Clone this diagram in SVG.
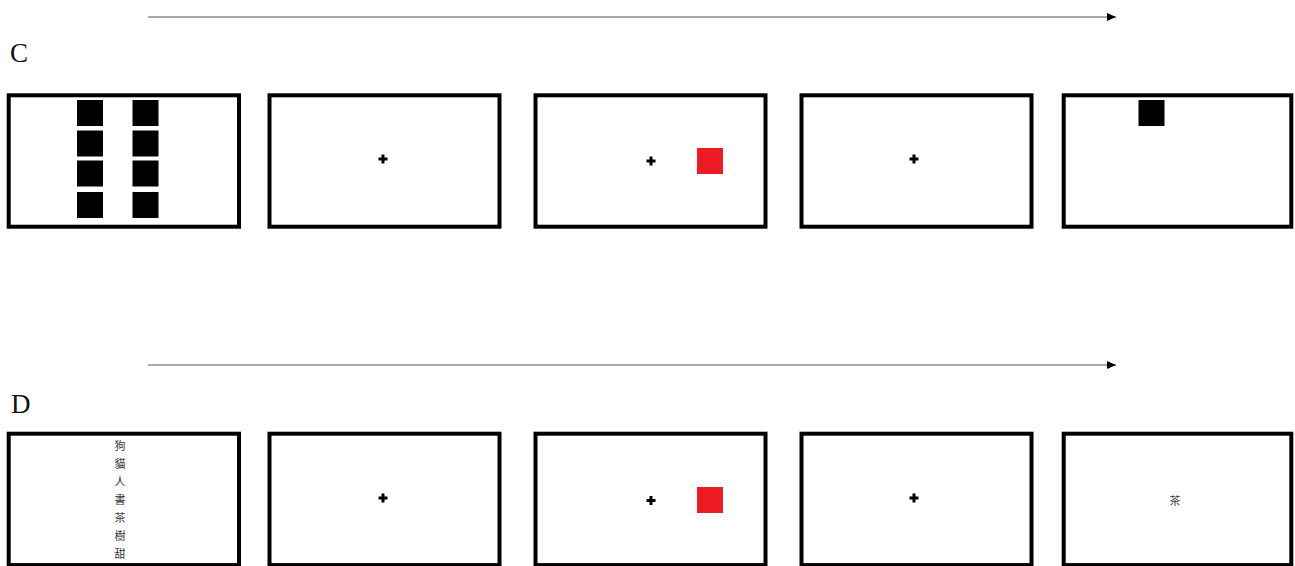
<svg xmlns="http://www.w3.org/2000/svg" width="1295" height="566" viewBox="0 0 1295 566">
<style>
.frame{fill:#fff;stroke:#000;stroke-width:4}
.blk{fill:#000}
.red{fill:#ed1c24}
.cross{stroke:#000;stroke-width:3;fill:none}
.lbl{font-family:"Liberation Serif",serif;font-size:27px;fill:#111}
.cjk{font-family:"Noto Sans CJK TC","Noto Sans CJK SC",sans-serif;font-size:11px;fill:#333;text-anchor:middle;dominant-baseline:central}
.arr{stroke:#555;stroke-width:1.2;fill:none}
</style>
<defs>
<marker id="ah" markerWidth="10" markerHeight="8" refX="9" refY="4" orient="auto" markerUnits="userSpaceOnUse">
<path d="M0,0 L9,4 L0,8 Z" fill="#000"/>
</marker>
</defs>
<rect width="1295" height="566" fill="#fff"/>
<g id="connectors">
<line class="arr" x1="148" y1="17" x2="1116" y2="17" marker-end="url(#ah)"/>
<line class="arr" x1="148" y1="365" x2="1116" y2="365" marker-end="url(#ah)"/>
</g>
<text class="lbl" x="10" y="62">C</text>
<text class="lbl" x="11" y="413">D</text>
<g id="c1">
<rect class="frame" x="8.7" y="95.3" width="230.3" height="131.4"/>
<rect class="blk" x="77" y="100" width="26" height="26"/>
<rect class="blk" x="132.5" y="100" width="26" height="26"/>
<rect class="blk" x="77" y="130.5" width="26" height="26"/>
<rect class="blk" x="132.5" y="130.5" width="26" height="26"/>
<rect class="blk" x="77" y="160.5" width="26" height="26"/>
<rect class="blk" x="132.5" y="160.5" width="26" height="26"/>
<rect class="blk" x="77" y="192" width="26" height="26"/>
<rect class="blk" x="132.5" y="192" width="26" height="26"/>
</g>
<g id="c2">
<rect class="frame" x="269.5" y="95.3" width="230" height="131.4"/>
<path class="cross" d="M378.5,159 h9 M383,154.5 v9"/>
</g>
<g id="c3">
<rect class="frame" x="535.5" y="95.3" width="230" height="131.4"/>
<path class="cross" d="M646.5,161 h9 M651,156.5 v9"/>
<rect class="red" x="697" y="148" width="26" height="26"/>
</g>
<g id="c4">
<rect class="frame" x="801.5" y="95.3" width="230" height="131.4"/>
<path class="cross" d="M909.5,159 h9 M914,154.5 v9"/>
</g>
<g id="c5">
<rect class="frame" x="1063.7" y="95.3" width="227.6" height="131.4"/>
<rect class="blk" x="1138.5" y="100" width="26" height="26"/>
</g>
<g id="d1">
<rect class="frame" x="8.7" y="433.7" width="230.3" height="131.4"/>
<text class="cjk" x="120" y="445">狗</text>
<text class="cjk" x="120" y="463">貓</text>
<text class="cjk" x="120" y="481">人</text>
<text class="cjk" x="120" y="499">書</text>
<text class="cjk" x="120" y="517">茶</text>
<text class="cjk" x="120" y="535">樹</text>
<text class="cjk" x="120" y="553">甜</text>
</g>
<g id="d2">
<rect class="frame" x="269.5" y="433.7" width="230" height="131.4"/>
<path class="cross" d="M378.5,498 h9 M383,493.5 v9"/>
</g>
<g id="d3">
<rect class="frame" x="535.5" y="433.7" width="230" height="131.4"/>
<path class="cross" d="M646.5,500.5 h9 M651,496 v9"/>
<rect class="red" x="697" y="487" width="26" height="26"/>
</g>
<g id="d4">
<rect class="frame" x="801.5" y="433.7" width="230" height="131.4"/>
<path class="cross" d="M909.5,498 h9 M914,493.5 v9"/>
</g>
<g id="d5">
<rect class="frame" x="1063.7" y="433.7" width="227.6" height="131.4"/>
<text class="cjk" x="1175" y="500">茶</text>
</g>
</svg>
